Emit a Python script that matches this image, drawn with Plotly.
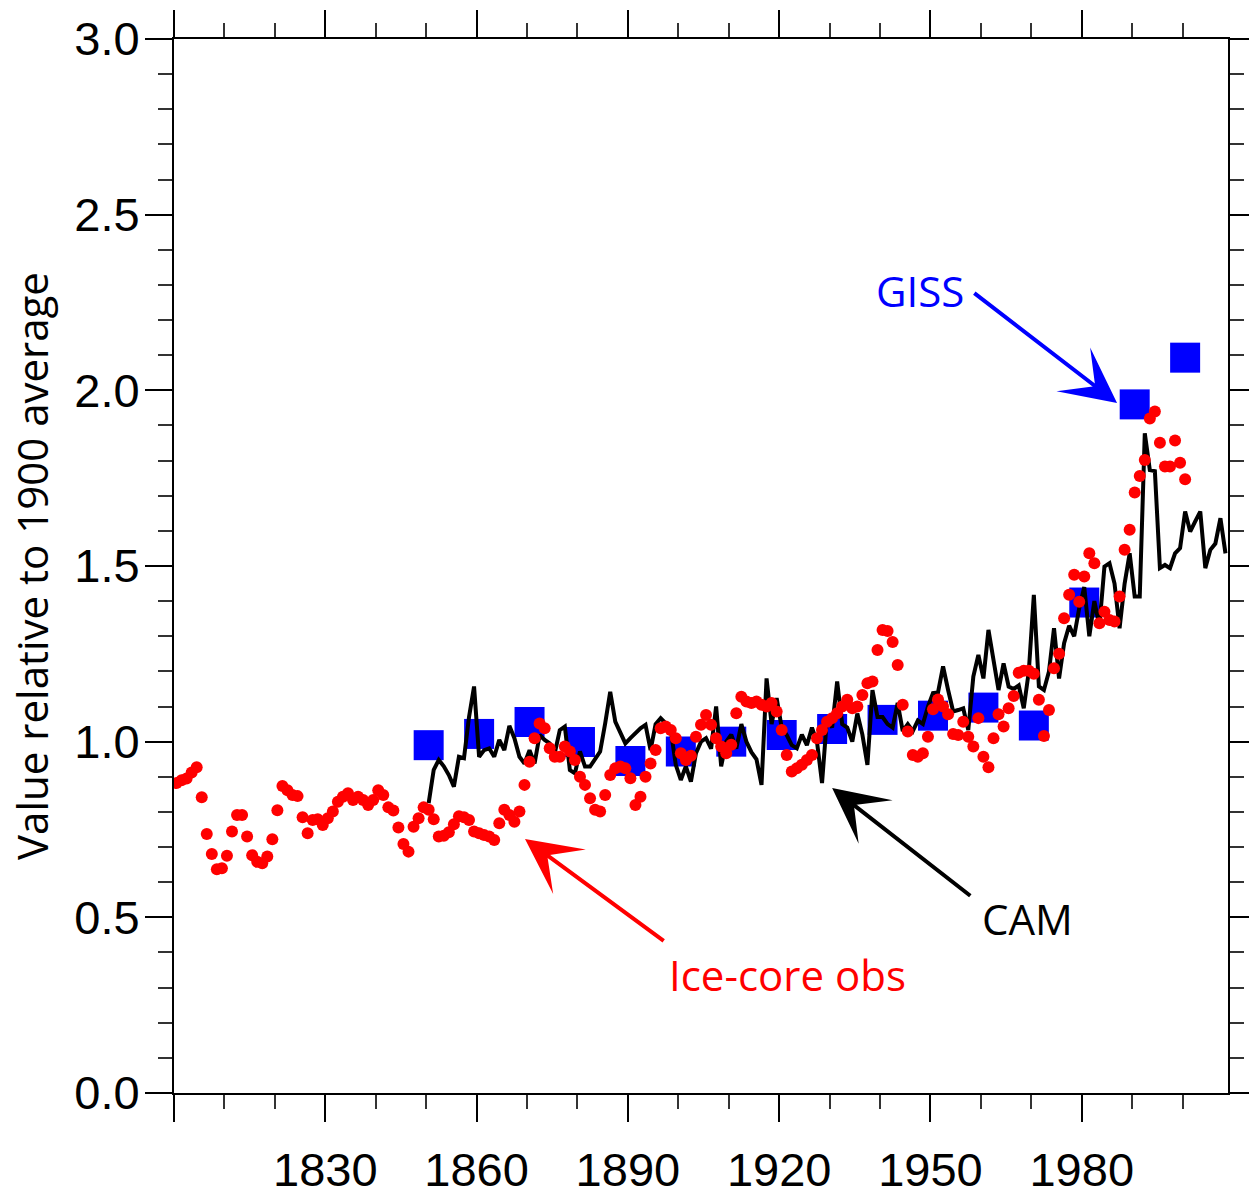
import plotly.graph_objects as go

# ---------------- data ----------------
ice_years = list(range(1800, 2001))
ice_vals = [
    0.882, 0.890, 0.895, 0.912, 0.927, 0.842, 0.737, 0.680, 0.637, 0.640,   # 1800s
    0.675, 0.744, 0.791, 0.791, 0.730, 0.677, 0.658, 0.654, 0.673, 0.722,   # 1810s
    0.805, 0.874, 0.862, 0.848, 0.845, 0.785, 0.739, 0.777, 0.779, 0.763,   # 1820s
    0.782, 0.801, 0.829, 0.843, 0.853, 0.834, 0.843, 0.834, 0.820, 0.834,   # 1830s
    0.862, 0.848, 0.813, 0.804, 0.756, 0.709, 0.687, 0.758, 0.782, 0.813,   # 1840s
    0.806, 0.779, 0.730, 0.732, 0.742, 0.765, 0.788, 0.785, 0.777, 0.744,   # 1850s
    0.739, 0.734, 0.730, 0.720, 0.768, 0.806, 0.791, 0.772, 0.801, 0.877,   # 1860s
    0.943, 1.010, 1.052, 1.038, 0.981, 0.957, 0.957, 0.986, 0.972, 0.948,   # 1870s
    0.900, 0.877, 0.839, 0.806, 0.801, 0.848, 0.905, 0.924, 0.929, 0.924,   # 1880s
    0.896, 0.820, 0.843, 0.900, 0.938, 0.976, 1.038, 1.043, 1.033, 1.010,   # 1890s
    0.967, 0.948, 0.960, 1.014, 1.048, 1.076, 1.048, 1.010, 0.986, 0.967,   # 1900s
    0.991, 1.081, 1.128, 1.114, 1.110, 1.114, 1.105, 1.100, 1.110, 1.086,   # 1910s
    1.033, 0.962, 0.915, 0.924, 0.934, 0.948, 0.962, 1.010, 1.033, 1.057,   # 1920s
    1.067, 1.081, 1.100, 1.119, 1.095, 1.100, 1.133, 1.166, 1.171, 1.261,   # 1930s
    1.318, 1.315, 1.284, 1.218, 1.105, 1.029, 0.962, 0.957, 0.967, 1.014,   # 1940s
    1.092, 1.120, 1.100, 1.078, 1.022, 1.019, 1.057, 1.014, 0.986, 1.067,   # 1950s
    0.957, 0.927, 1.010, 1.078, 1.043, 1.095, 1.130, 1.196, 1.202, 1.202,   # 1960s
    1.193, 1.119, 1.016, 1.090, 1.209, 1.250, 1.351, 1.418, 1.475, 1.398,   # 1970s
    1.470, 1.536, 1.508, 1.337, 1.370, 1.346, 1.342, 1.413, 1.546, 1.603,   # 1980s
    1.709, 1.756, 1.802, 1.920, 1.940, 1.851, 1.783, 1.783, 1.857, 1.794,   # 1990s
    1.747,                                                                  # 2000
]

cam_years = list(range(1850, 2009))
cam_vals = [
    0.825, 0.920, 0.948, 0.930, 0.905, 0.872, 0.957, 0.953, 1.070, 1.157,   # 1850s
    0.957, 0.976, 0.981, 0.957, 1.005, 0.976, 1.045, 1.010, 0.957, 0.938,   # 1860s
    0.976, 0.938, 1.019, 1.005, 0.995, 0.967, 1.033, 1.043, 0.919, 0.910,   # 1870s
    0.972, 0.929, 0.929, 0.950, 0.972, 1.052, 1.142, 1.057, 1.024, 0.995,   # 1880s
    1.010, 1.024, 1.038, 1.048, 0.976, 1.050, 1.067, 1.052, 1.033, 0.934,   # 1890s
    0.891, 0.930, 0.886, 0.967, 1.000, 1.010, 0.980, 1.100, 0.930, 1.000,   # 1900s
    1.020, 0.980, 1.050, 1.000, 0.970, 0.950, 0.877, 1.180, 1.050, 1.124,   # 1910s
    1.040, 1.019, 0.990, 0.981, 1.020, 0.990, 1.040, 1.000, 0.882, 1.071,   # 1920s
    1.040, 1.171, 1.050, 1.040, 1.000, 1.080, 1.020, 0.934, 1.147, 1.070,   # 1930s
    1.070, 1.050, 1.040, 1.110, 1.030, 1.050, 1.030, 1.060, 1.050, 1.100,   # 1940s
    1.138, 1.140, 1.214, 1.147, 1.086, 1.090, 1.095, 1.033, 1.185, 1.247,   # 1950s
    1.180, 1.318, 1.237, 1.147, 1.223, 1.157, 1.150, 1.160, 1.095, 1.200,   # 1960s
    1.418, 1.157, 1.147, 1.200, 1.323, 1.180, 1.280, 1.330, 1.300, 1.380,   # 1970s
    1.440, 1.300, 1.400, 1.330, 1.498, 1.508, 1.450, 1.323, 1.450, 1.536,   # 1980s
    1.413, 1.413, 1.878, 1.773, 1.770, 1.494, 1.503, 1.494, 1.536, 1.551,   # 1990s
    1.655, 1.598, 1.627, 1.655, 1.494, 1.546, 1.564, 1.636, 1.536,          # 2000s
]

giss_years = list(range(1850, 2001, 10))
giss_vals = [0.990, 1.022, 1.056, 0.999, 0.945, 0.972, 1.000, 1.019,
             1.036, 1.062, 1.074, 1.097, 1.046, 1.396, 1.960, 2.093]

x_tick_vals = [1800, 1830, 1860, 1890, 1920, 1950, 1980]
x_tick_text = ["", "1830", "1860", "1890", "1920", "1950", "1980"]
y_tick_vals = [0.0, 0.5, 1.0, 1.5, 2.0, 2.5, 3.0]

# annual / decadal means are drawn at mid-period
def mid(years):
    return [y + 0.5 for y in years]

# ---------------- figure ----------------
fig = go.Figure()

fig.add_trace(go.Scatter(
    x=mid(giss_years), y=giss_vals, mode="markers", name="GISS",
    marker=dict(symbol="square", size=30, color="#0000FF", line=dict(width=0)),
))
fig.add_trace(go.Scatter(
    x=mid(cam_years), y=cam_vals, mode="lines", name="CAM",
    line=dict(color="black", width=4),
))
fig.add_trace(go.Scatter(
    x=mid(ice_years), y=ice_vals, mode="markers", name="Ice-core obs",
    marker=dict(symbol="circle", size=12, color="#FF0000", line=dict(width=0)),
))

label_font = "Open Sans, Noto Sans, sans-serif"

def label(text, x, y, color):
    fig.add_annotation(x=x, y=y, xref="x", yref="y", text=text, showarrow=False,
                       font=dict(family=label_font, size=42, color=color),
                       xanchor="center", yanchor="middle")

def arrow(tail, tip, color):
    fig.add_annotation(x=tip[0], y=tip[1], xref="x", yref="y",
                       ax=tail[0], ay=tail[1], axref="x", ayref="y",
                       text="", showarrow=True, arrowhead=3, arrowsize=2.3,
                       arrowwidth=4, arrowcolor=color, standoff=0)

label("GISS", 1947.9, 2.283, "#0000FF")
arrow((1958.4, 2.28), (1987.0, 1.964), "#0000FF")
label("CAM", 1969.3, 0.498, "black")
arrow((1958.2, 0.558), (1930.5, 0.868), "black")
label("Ice-core obs", 1921.6, 0.336, "#FF0000")
arrow((1897.4, 0.430), (1869.6, 0.723), "#FF0000")

tick_font = dict(family="Liberation Sans, Arial, sans-serif", size=47, color="black")

fig.update_xaxes(
    range=[1800, 2009], tickmode="array", tickvals=x_tick_vals, ticktext=x_tick_text,
    ticks="outside", ticklen=27, tickwidth=2, tickcolor="black",
    minor=dict(dtick=10, tick0=1800, ticks="outside", ticklen=14, tickwidth=1.5, tickcolor="#333"),
    showline=True, linewidth=2, linecolor="black", mirror="allticks",
    showgrid=False, zeroline=False, tickfont=tick_font, ticklabelstandoff=8,
    automargin=False,
)
fig.update_yaxes(
    range=[0, 3], tickmode="array", tickvals=y_tick_vals, tickformat=".1f",
    ticks="outside", ticklen=27, tickwidth=2, tickcolor="black",
    minor=dict(dtick=0.1, tick0=0, ticks="outside", ticklen=14, tickwidth=1.5, tickcolor="#333"),
    showline=True, linewidth=2, linecolor="black", mirror="allticks",
    showgrid=False, zeroline=False, tickfont=tick_font, ticklabelstandoff=-4,
    title=dict(text="Value relative to 1900 average",
               font=dict(family=label_font, size=42, color="black"), standoff=13),
    automargin=False,
)

fig.update_layout(
    width=1249, height=1197,
    margin=dict(l=174, r=21, t=39, b=104, autoexpand=False),
    plot_bgcolor="white", paper_bgcolor="white",
    showlegend=False,
)

fig.write_html("out.html",
               config={"displayModeBar": False},
               post_script="document.body.style.margin='0';"
                           "document.body.style.overflow='hidden';")
